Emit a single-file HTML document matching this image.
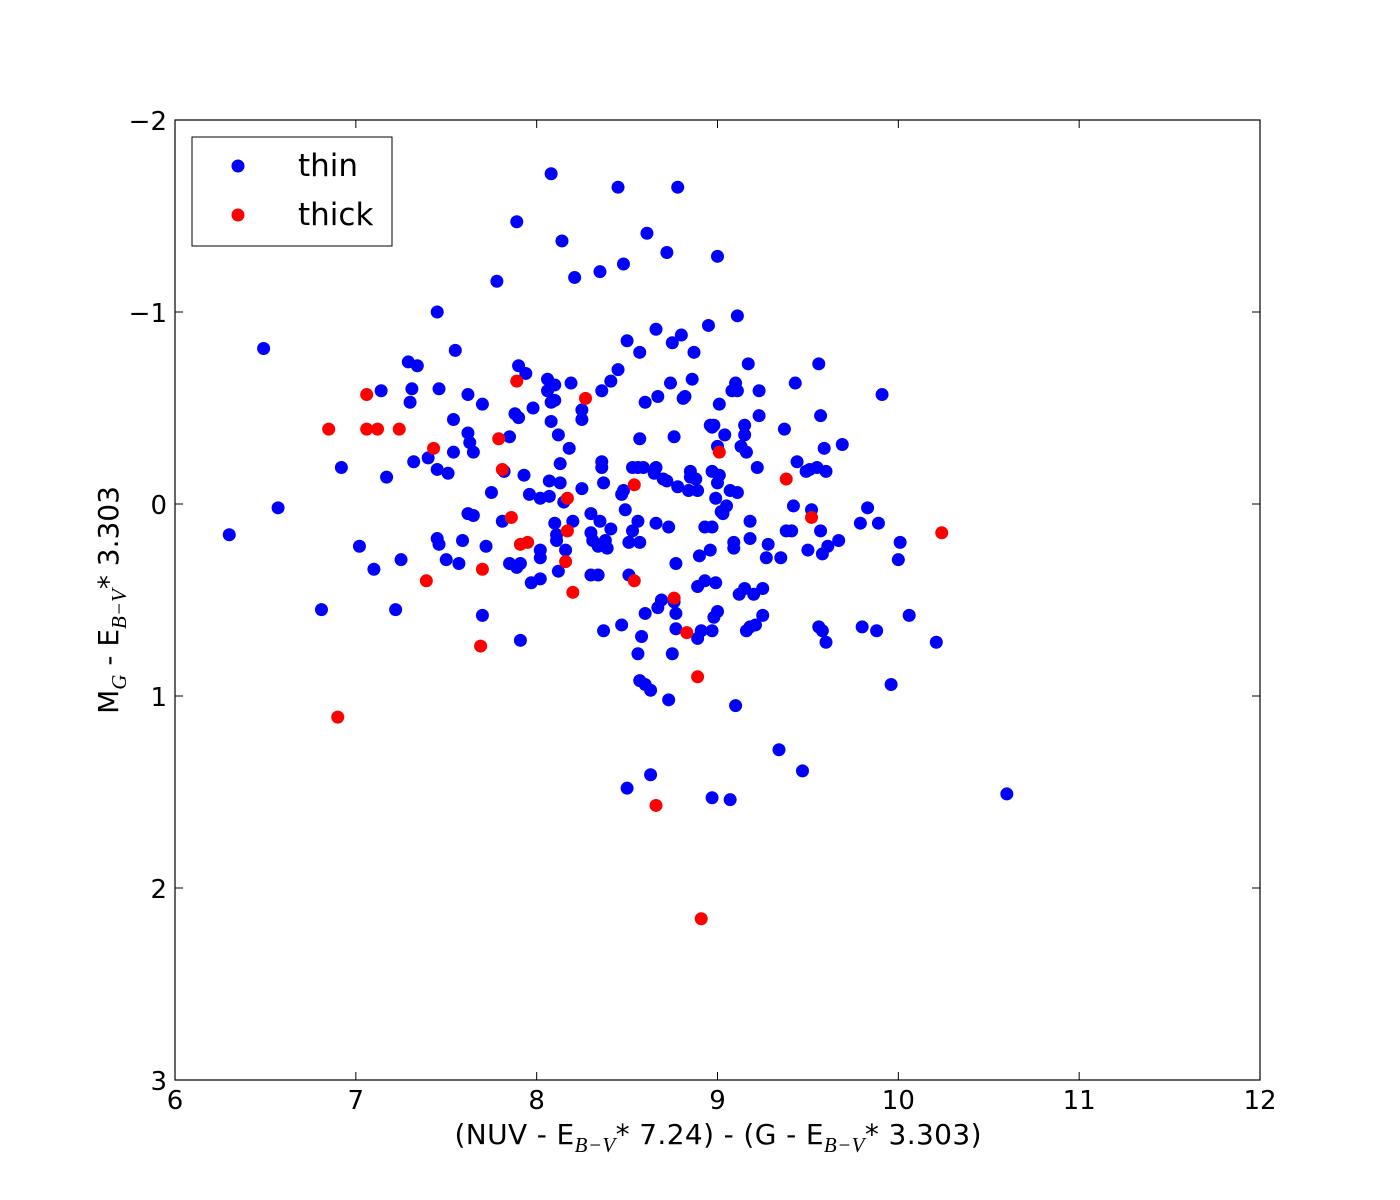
<!DOCTYPE html>
<html><head><meta charset="utf-8"><style>
html,body{margin:0;padding:0;background:#fff;}
svg{display:block;font-family:"DejaVu Sans","Liberation Sans",sans-serif;}
</style></head><body>
<svg id="chart" width="1400" height="1200" xmlns="http://www.w3.org/2000/svg">
<rect x="0" y="0" width="1400" height="1200" fill="#fff"/>
<g id="ticks"></g>
<g id="points"></g>
<rect x="175" y="120" width="1085" height="960" fill="none" stroke="#000" stroke-width="1.2"/>
<g>
<rect x="192" y="137" width="200" height="109" fill="#fff" stroke="#000" stroke-width="1"/>
<circle cx="238" cy="166" r="6.5" fill="#0000ff"/>
<text x="298" y="176" font-size="31">thin</text>
<circle cx="238" cy="215" r="6.5" fill="#ff0000"/>
<text x="298" y="225" font-size="31">thick</text>
</g>
<text x="718" y="1144" font-size="28" text-anchor="middle" textLength="527">(NUV - E<tspan font-family="Liberation Serif" font-style="italic" font-size="21" dy="8">B−V</tspan><tspan dy="-8">* 7.24) - (G - E</tspan><tspan font-family="Liberation Serif" font-style="italic" font-size="21" dy="8">B−V</tspan><tspan dy="-8">* 3.303)</tspan></text>
<text transform="translate(118,600) rotate(-90)" font-size="28" text-anchor="middle">M<tspan font-family="Liberation Serif" font-style="italic" font-size="21" dy="8">G</tspan><tspan dy="-8"> - E</tspan><tspan font-family="Liberation Serif" font-style="italic" font-size="21" dy="8">B−V</tspan><tspan dy="-8">* 3.303</tspan></text>
</svg>
<script>
const xTicks=[6,7,8,9,10,11,12];
const yTicks=[-2,-1,0,1,2,3];
const yTickLabels=["−2","−1","0","1","2","3"];
const thinX=[6.30,6.49,6.57,6.81,6.92,7.02,7.10,7.14,7.17,7.22,7.25,7.29,7.31,7.30,7.34,7.32,7.40,7.45,7.46,7.45,7.45,7.46,7.50,7.51,7.55,7.54,7.54,7.57,7.59,7.62,7.62,7.63,7.65,7.62,7.65,7.70,7.72,7.70,7.75,7.78,7.81,7.82,7.85,7.85,7.88,7.89,7.89,7.90,7.90,7.91,7.91,7.93,7.94,7.96,7.97,7.98,8.02,8.02,8.02,8.02,8.06,8.06,8.07,8.07,8.08,8.08,8.08,8.10,8.10,8.10,8.11,8.11,8.12,8.13,8.13,8.12,8.14,8.15,8.16,8.18,8.19,8.20,8.21,8.25,8.25,8.25,8.30,8.30,8.31,8.30,8.34,8.35,8.36,8.35,8.36,8.36,8.37,8.34,8.37,8.38,8.39,8.41,8.41,8.45,8.45,8.47,8.48,8.47,8.48,8.50,8.49,8.50,8.51,8.51,8.53,8.53,8.56,8.56,8.56,8.57,8.57,8.57,8.58,8.57,8.59,8.60,8.60,8.60,8.61,8.63,8.63,8.65,8.66,8.66,8.66,8.67,8.67,8.69,8.70,8.72,8.72,8.73,8.73,8.74,8.75,8.75,8.76,8.76,8.77,8.77,8.77,8.78,8.78,8.80,8.81,8.82,8.85,8.84,8.85,8.86,8.87,8.88,8.89,8.89,8.89,8.90,8.91,8.93,8.93,8.95,8.96,8.97,8.96,8.97,8.97,8.97,8.97,8.98,8.98,8.99,8.99,9.00,9.00,9.00,9.00,9.01,9.01,9.02,9.03,9.04,9.05,9.07,9.07,9.08,9.09,9.09,9.10,9.10,9.11,9.11,9.11,9.12,9.13,9.15,9.15,9.15,9.16,9.16,9.17,9.18,9.18,9.18,9.20,9.21,9.22,9.23,9.23,9.25,9.25,9.27,9.28,9.34,9.35,9.37,9.38,9.41,9.42,9.43,9.44,9.47,9.49,9.50,9.51,9.52,9.55,9.56,9.56,9.57,9.57,9.58,9.58,9.59,9.60,9.60,9.61,9.67,9.69,9.79,9.80,9.83,9.88,9.89,9.91,9.96,10.00,10.01,10.06,10.21,10.60];
const thinY=[0.16,-0.81,0.02,0.55,-0.19,0.22,0.34,-0.59,-0.14,0.55,0.29,-0.74,-0.60,-0.53,-0.72,-0.22,-0.24,-1.00,-0.60,-0.18,0.18,0.21,0.29,-0.16,-0.80,-0.44,-0.27,0.31,0.19,-0.57,-0.37,-0.32,-0.27,0.05,0.06,-0.52,0.22,0.58,-0.06,-1.16,0.09,-0.17,-0.35,0.31,-0.47,0.33,-1.47,-0.72,-0.45,0.31,0.71,-0.15,-0.68,-0.05,0.41,-0.50,-0.03,0.24,0.28,0.39,-0.65,-0.59,-0.04,-0.12,-0.43,-1.72,-0.53,-0.54,-0.62,0.10,0.16,0.19,-0.36,-0.21,-0.11,0.35,-1.37,-0.01,0.24,-0.29,-0.63,0.09,-1.18,-0.49,-0.44,-0.08,0.05,0.15,0.19,0.37,0.22,-1.21,-0.59,0.09,-0.19,-0.22,-0.11,0.37,0.66,0.19,0.23,-0.64,0.13,-0.70,-1.65,-0.05,-0.07,0.63,-1.25,-0.85,0.03,1.48,0.37,0.20,0.14,-0.19,0.78,0.09,-0.19,-0.79,-0.34,0.20,0.69,0.92,-0.19,0.57,0.94,-0.53,-1.41,0.97,1.41,-0.16,-0.91,-0.19,0.10,-0.56,0.54,0.50,-0.13,-0.12,-1.31,0.12,1.02,-0.63,-0.84,0.78,-0.35,0.51,0.57,0.65,0.31,-1.65,-0.09,-0.88,-0.55,-0.56,-0.17,-0.07,-0.14,-0.65,-0.79,-0.13,0.70,0.43,-0.07,0.27,0.66,0.40,0.12,-0.93,-0.41,-0.17,0.24,-0.40,1.53,0.66,0.12,-0.41,0.59,0.41,-0.03,-0.11,0.56,-1.29,-0.30,-0.15,-0.52,0.04,0.05,-0.36,0.01,1.54,-0.07,-0.59,0.20,0.23,-0.63,1.05,-0.06,-0.59,-0.98,0.47,-0.30,-0.41,-0.36,0.44,0.66,-0.27,-0.73,0.09,0.18,0.64,0.47,0.63,-0.19,-0.59,-0.46,0.44,0.58,0.28,0.21,1.28,0.28,-0.39,0.14,0.14,0.01,-0.63,-0.22,1.39,-0.17,0.24,-0.18,0.03,-0.19,0.64,-0.73,0.14,-0.46,0.66,0.26,-0.29,-0.17,0.72,0.22,0.19,-0.31,0.10,0.64,0.02,0.66,0.10,-0.57,0.94,0.29,0.20,0.58,0.72,1.51];
const thickX=[6.85,6.90,7.06,7.06,7.12,7.24,7.39,7.43,7.69,7.70,7.79,7.81,7.86,7.89,7.91,7.95,8.16,8.17,8.17,8.20,8.27,8.54,8.54,8.66,8.76,8.83,8.89,8.91,9.01,9.38,9.52,10.24];
const thickY=[-0.39,1.11,-0.57,-0.39,-0.39,-0.39,0.40,-0.29,0.74,0.34,-0.34,-0.18,0.07,-0.64,0.21,0.20,0.30,-0.03,0.14,0.46,-0.55,-0.10,0.40,1.57,0.49,0.67,0.90,2.16,-0.27,-0.13,0.07,0.15];

const X0=175,X1=1260,Y0=120,Y1=1080;
function sx(v){return X0+(v-6)/(12-6)*(X1-X0);}
function sy(v){return Y0+(v-(-2))/(3-(-2))*(Y1-Y0);}
const NS="http://www.w3.org/2000/svg";
const tg=document.getElementById('ticks');
function mk(tag,attrs,parent){const e=document.createElementNS(NS,tag);for(const k in attrs)e.setAttribute(k,attrs[k]);parent.appendChild(e);return e;}
xTicks.forEach((t,i)=>{
  const x=sx(t);
  const a=mk('line',{x1:x,x2:x,y1:Y1,y2:Y1-8,stroke:'#000'},tg);
  
  
  const b=mk('line',{x1:x,x2:x,y1:Y0,y2:Y0+8,stroke:'#000'},tg);
  
  
  const l=mk('text',{x:x,y:Y1+29,'font-size':26,'text-anchor':'middle'},tg);
  l.textContent=String(t);
  
  
});
yTicks.forEach((t,i)=>{
  const y=sy(t);
  const a=mk('line',{x1:X0,x2:X0+8,y1:y,y2:y,stroke:'#000'},tg);
  
  
  const b=mk('line',{x1:X1,x2:X1-8,y1:y,y2:y,stroke:'#000'},tg);
  
  
  const l=mk('text',{x:X0-8,y:y+10,'font-size':26,'text-anchor':'end'},tg);
  l.textContent=yTickLabels[i];
  
  
});
const pg=document.getElementById('points');
thinX.forEach((v,i)=>{
  const c=mk('circle',{cx:sx(v),cy:sy(thinY[i]),r:6.5,fill:'#0000ff'},pg);
  
  
});
thickX.forEach((v,i)=>{
  const c=mk('circle',{cx:sx(v),cy:sy(thickY[i]),r:6.5,fill:'#ff0000'},pg);
  
  
});
</script>
</body></html>
